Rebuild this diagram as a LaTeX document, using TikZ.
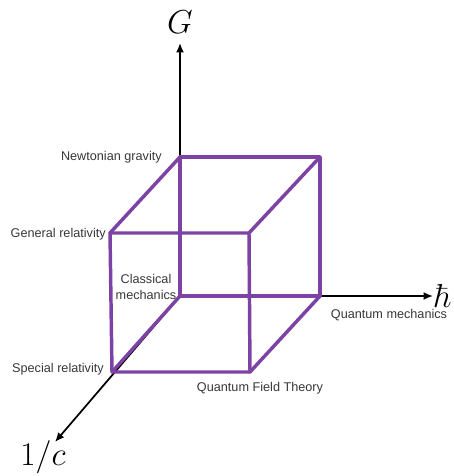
\documentclass[tikz,border=0pt]{standalone}
\usepackage[no-math]{fontspec}
\setmainfont{Liberation Sans}
\usetikzlibrary{arrows.meta}
\definecolor{cubepurple}{RGB}{124,66,164}
\definecolor{labelgray}{RGB}{55,55,55}
\tikzset{
  axis/.style={line width=1.3pt,-{Latex[length=7pt,width=6pt]}},
  cubeedge/.style={cubepurple,line width=2.6pt,line join=round,line cap=round},
  lbl/.style={text=labelgray,font=\fontsize{9.5}{11}\selectfont,inner sep=0pt},
  mathlbl/.style={font=\fontsize{23}{26}\selectfont,inner sep=0pt}
}
\begin{document}
\begin{tikzpicture}[x=0.75pt,y=-0.75pt]
\useasboundingbox (0,0) rectangle (454,476);
% corners
\coordinate (O) at (180,296);
\coordinate (BTL) at (180,157);
\coordinate (BTR) at (320,157);
\coordinate (BBR) at (320,296);
\coordinate (FTL) at (110,233);
\coordinate (FTR) at (249,233);
\coordinate (FBR) at (250,372);
\coordinate (FBL) at (112,372);
% axis tips
\coordinate (Gtip) at (180,43);
\coordinate (Htip) at (433,296);
\coordinate (Ctip) at (55,442);
% axes
\draw[axis] (O) -- (Gtip);
\draw[axis] (O) -- (Htip);
\draw[axis] (O) -- (Ctip);
% cube
\draw[cubeedge] (BTL) -- (BTR) -- (BBR) -- (O) -- cycle;
\draw[cubeedge] (FTL) -- (FTR) -- (FBR) -- (FBL) -- cycle;
\draw[cubeedge] (BTL) -- (FTL);
\draw[cubeedge] (BTR) -- (FTR);
\draw[cubeedge] (BBR) -- (FBR);
\draw[cubeedge] (O) -- (FBL);
% axis labels
\node[mathlbl] (G) at (180,22) {$G$};
\node[mathlbl] (H) at (443,296) {$\hbar$};
\node[mathlbl] (C) at (43,457) {$1/c$};
% labels
\node[lbl,anchor=east] (ng) at (162,157) {Newtonian gravity};
\node[lbl,anchor=east] (gr) at (106,234) {General relativity};
\node[lbl,anchor=east] (sr) at (104,369) {Special relativity};
\node[lbl] (qm) at (389,315) {Quantum mechanics};
\node[lbl] (qft) at (260,388) {Quantum Field Theory};
\node[lbl,align=center,font=\fontsize{9.5}{12}\selectfont] (cm) at (146,287) {Classical\\mechanics};
\end{tikzpicture}
\end{document}
